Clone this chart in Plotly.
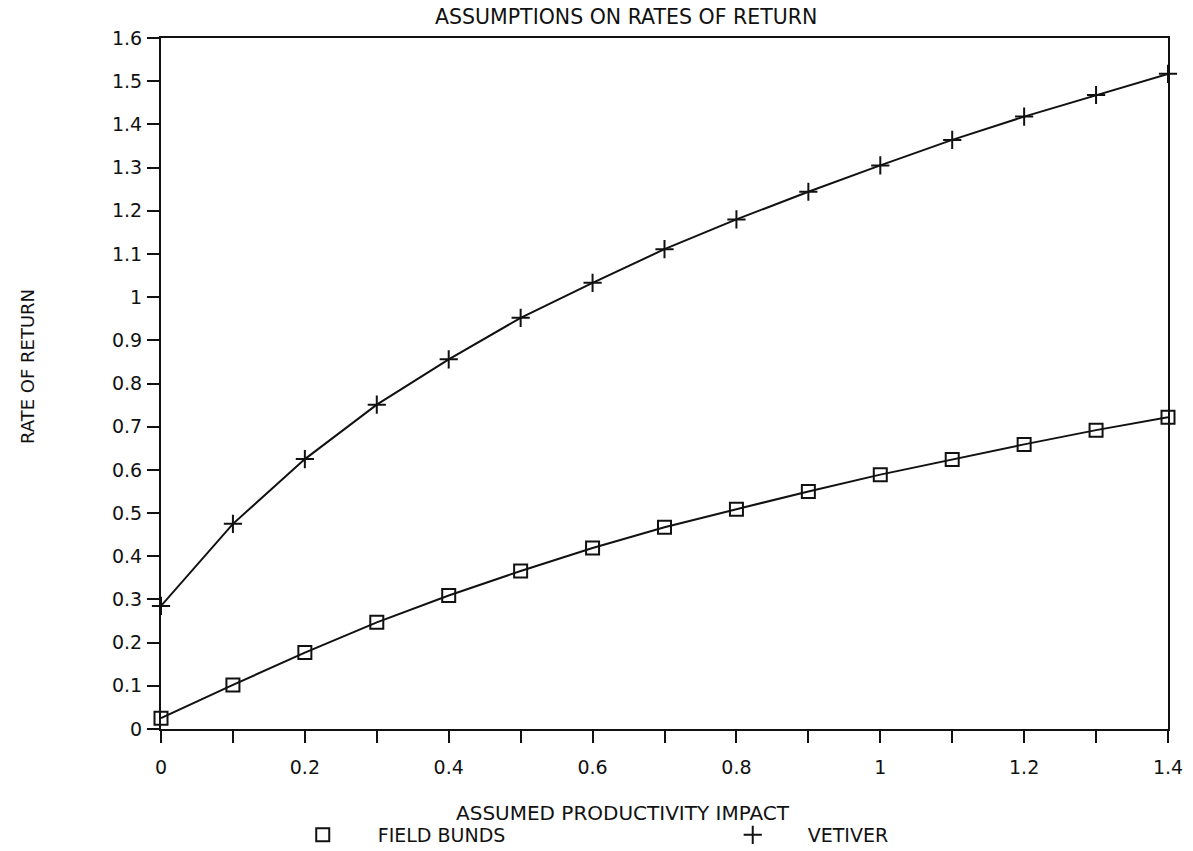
import plotly.graph_objects as go

impact = [0.0, 0.1, 0.2, 0.3, 0.4, 0.5, 0.6, 0.7, 0.8, 0.9, 1.0, 1.1, 1.2, 1.3, 1.4]
field_bunds = [0.025, 0.102, 0.177, 0.247, 0.309, 0.366, 0.419, 0.467, 0.509, 0.550,
               0.589, 0.624, 0.659, 0.692, 0.722]
vetiver = [0.285, 0.475, 0.625, 0.751, 0.856, 0.952, 1.033, 1.111, 1.180, 1.244,
           1.305, 1.364, 1.418, 1.468, 1.517]

x_tickvals = [0.0, 0.1, 0.2, 0.3, 0.4, 0.5, 0.6, 0.7, 0.8, 0.9, 1.0, 1.1, 1.2, 1.3, 1.4]
x_ticktext = ["0", "", "0.2", "", "0.4", "", "0.6", "", "0.8", "", "1", "", "1.2", "", "1.4"]
y_tickvals = [0.0, 0.1, 0.2, 0.3, 0.4, 0.5, 0.6, 0.7, 0.8, 0.9, 1.0, 1.1, 1.2, 1.3, 1.4, 1.5, 1.6]

FONT = "DejaVu Sans, Liberation Sans, sans-serif"
INK = "#111111"
FS = 19

fig = go.Figure()
fig.add_trace(go.Scatter(
    x=impact, y=field_bunds, mode="lines+markers", showlegend=False,
    line=dict(color=INK, width=2),
    marker=dict(symbol="square-open", size=13, color=INK, line=dict(width=2, color=INK)),
    cliponaxis=False,
))
fig.add_trace(go.Scatter(
    x=impact, y=vetiver, mode="lines+markers", showlegend=False,
    line=dict(color=INK, width=2),
    marker=dict(symbol="cross-thin-open", size=13, color=INK, line=dict(width=2, color=INK)),
    cliponaxis=False,
))
# legend-only entries (marker only, as in the original key)
fig.add_trace(go.Scatter(
    x=[None], y=[None], mode="markers", name="FIELD BUNDS",
    marker=dict(symbol="square-open", size=13, color=INK, line=dict(width=2, color=INK)),
))
fig.add_trace(go.Scatter(
    x=[None], y=[None], mode="markers", name="VETIVER",
    marker=dict(symbol="cross-thin-open", size=13, color=INK, line=dict(width=2, color=INK)),
))

fig.update_layout(
    width=1193, height=851,
    margin=dict(l=161, r=25, t=38, b=122, autoexpand=False),
    paper_bgcolor="white", plot_bgcolor="white",
    font=dict(family=FONT, size=FS, color=INK),
    showlegend=True,
    legend=dict(
        orientation="h", x=0.106, y=-0.1534, xanchor="left", yanchor="middle",
        entrywidth=315, entrywidthmode="pixels", itemwidth=100,
        font=dict(size=FS, family=FONT, color=INK), bgcolor="rgba(0,0,0,0)",
    ),
    annotations=[
        dict(text="ASSUMPTIONS ON RATES OF RETURN", xref="paper", yref="paper",
             x=0.462, y=1.0, yshift=21, xanchor="center", yanchor="middle",
             showarrow=False, font=dict(size=20.5, family=FONT, color=INK)),
        dict(text="ASSUMED PRODUCTIVITY IMPACT", xref="paper", yref="paper",
             x=0.459, y=-0.1216, xanchor="center", yanchor="middle",
             showarrow=False, font=dict(size=20, family=FONT, color=INK)),
        dict(text="RATE OF RETURN", xref="paper", yref="paper",
             x=-0.132, y=0.524, xanchor="center", yanchor="middle", textangle=-90,
             showarrow=False, font=dict(size=FS - 1, family=FONT, color=INK)),
    ],
)
fig.update_xaxes(
    range=[0, 1.4], tickvals=x_tickvals, ticktext=x_ticktext,
    showgrid=False, zeroline=False,
    showline=True, linecolor=INK, linewidth=2, mirror=True,
    ticks="outside", ticklen=12, tickwidth=2, tickcolor=INK,
    ticklabelstandoff=8,
    tickfont=dict(size=FS, family=FONT, color=INK),
)
fig.update_yaxes(
    range=[0, 1.6], tickvals=y_tickvals,
    showgrid=False, zeroline=False,
    showline=True, linecolor=INK, linewidth=2, mirror=True,
    ticks="outside", ticklen=12, tickwidth=2, tickcolor=INK,
    ticklabelstandoff=1,
    tickfont=dict(size=FS, family=FONT, color=INK),
)

fig.write_html("out.html", config={"displayModeBar": False},
               post_script="document.body.style.margin='0';")
